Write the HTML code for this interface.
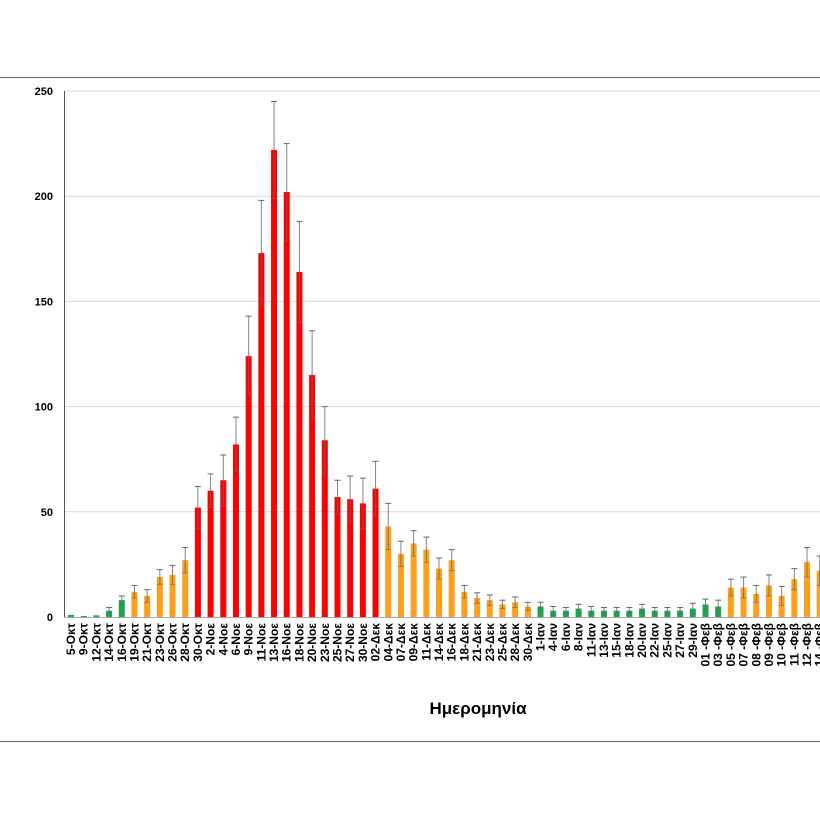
<!DOCTYPE html>
<html><head><meta charset="utf-8"><style>
html,body{margin:0;padding:0;background:#fff;}
svg{display:block;font-family:"Liberation Sans",sans-serif;}
</style></head><body>
<svg id="s" width="820" height="820" viewBox="0 0 820 820" xmlns="http://www.w3.org/2000/svg">
<line x1="0" y1="77.5" x2="820" y2="77.5" stroke="#777" stroke-width="1.2"/>
<line x1="0" y1="741.5" x2="820" y2="741.5" stroke="#777" stroke-width="1.2"/>
<g id="g"></g>
<text x="478" y="714" font-size="17" font-weight="bold" text-anchor="middle" fill="#000">Ημερομηνία</text>
</svg>
<script>
const labels=["5-Οκτ","9-Οκτ","12-Οκτ","14-Οκτ","16-Οκτ","19-Οκτ","21-Οκτ","23-Οκτ","26-Οκτ","28-Οκτ","30-Οκτ",
"2-Νοε","4-Νοε","6-Νοε","9-Νοε","11-Νοε","13-Νοε","16-Νοε","18-Νοε","20-Νοε","23-Νοε","25-Νοε","27-Νοε","30-Νοε",
"02-Δεκ","04-Δεκ","07-Δεκ","09-Δεκ","11-Δεκ","14-Δεκ","16-Δεκ","18-Δεκ","21-Δεκ","23-Δεκ","25-Δεκ","28-Δεκ","30-Δεκ",
"1-Ιαν","4-Ιαν","6-Ιαν","8-Ιαν","11-Ιαν","13-Ιαν","15-Ιαν","18-Ιαν","20-Ιαν","22-Ιαν","25-Ιαν","27-Ιαν","29-Ιαν",
"01 -Φεβ","03 -Φεβ","05 -Φεβ","07 -Φεβ","08 -Φεβ","09 -Φεβ","10 -Φεβ","11 -Φεβ","12 -Φεβ","14 -Φεβ"];
const vals=[1,0.5,0.8,3,8,12,10,19,20,27,52,
60,65,82,124,173,222,202,164,115,84,57,56,54,
61,43,30,35,32,23,27,12,9,8,6,7,5,
5,3,3,4,3,3,3,3,4,3,3,3,4,
6,5,14,14,11,15,10,18,26,22];
const ups=[0,0,0,1.5,2,3,3,3.5,4.5,6,10,8,12,13,19,25,23,23,24,21,16,8,11,12,13,11,6,6,6,5,5,3,2.5,2.5,2,2.5,2,2,2,1.5,2,2,1.5,1.5,1.5,2,1.5,1.5,1.5,2.5,2.5,3,4,5,4,5,4.5,5,7,7];
const Y=v=>617-2.104*v;
let h="";
[0,50,100,150,200,250].forEach(t=>{const y=Y(t);
 if(t>0)h+=`<line x1="64" y1="${y}" x2="820" y2="${y}" stroke="#d9d9d9" stroke-width="1"/>`;
 h+=`<text x="53" y="${y+4}" font-size="11" font-weight="bold" text-anchor="end">${t}</text>`;});
h+=`<line x1="64.5" y1="91" x2="64.5" y2="617" stroke="#555" stroke-width="1"/>`;
h+=`<line x1="64" y1="617.5" x2="820" y2="617.5" stroke="#aaa" stroke-width="1"/>`;
labels.forEach((l,i)=>{
 const x=71+12.69*i, v=vals[i];
 let c=(i>=37&&i<=51)||i<=4?"#1ea552":(v>=50?"#ff0000":"#ffa01c");
 if(i==24)c="#ff0000";
 const e=ups[i];
 h+=`<rect x="${x-3}" y="${Y(v)}" width="6" height="${2.104*v}" fill="${c}"/>`;
 if(e>0){
  h+=`<line x1="${x}" y1="${Y(v+e)}" x2="${x}" y2="${Y(Math.max(0,v-e))}" stroke="#666" stroke-width="1" opacity="0.8"/>`;
  h+=`<line x1="${x-3}" y1="${Y(v+e)}" x2="${x+3}" y2="${Y(v+e)}" stroke="#666" stroke-width="1"/>`;
  h+=`<line x1="${x-3}" y1="${Y(Math.max(0,v-e))}" x2="${x+3}" y2="${Y(Math.max(0,v-e))}" stroke="#666" stroke-width="1" opacity="0.6"/>`;
 }
 h+=`<text transform="translate(${x+4},623) rotate(-90)" font-size="12" font-weight="bold" text-anchor="end">${l}</text>`;
});
document.getElementById("g").innerHTML=h;
</script>
</body></html>
